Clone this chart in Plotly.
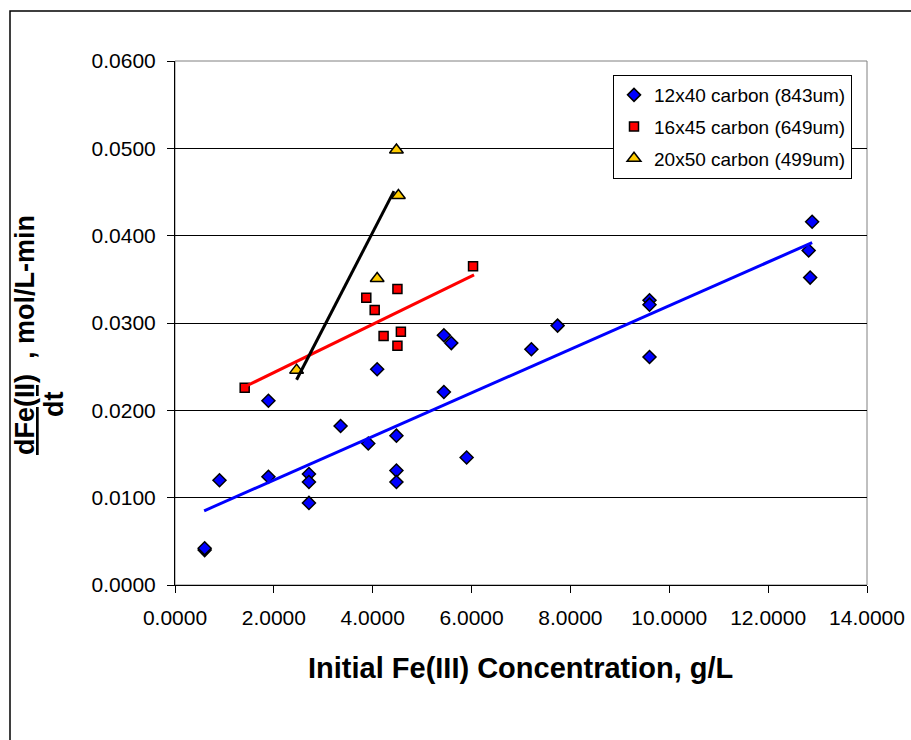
import plotly.graph_objects as go

# ---- data ----
blue_x = [0.60, 0.60, 0.90, 1.89, 1.89, 2.71, 2.71, 2.71, 3.35, 3.91, 4.09, 4.48, 4.48, 4.48,
          5.44, 5.44, 5.59, 5.90, 7.21, 7.74, 9.60, 9.60, 9.60, 12.82, 12.85, 12.89]
blue_y = [0.0040, 0.0042, 0.0120, 0.0124, 0.0211, 0.0127, 0.0118, 0.0094, 0.0182, 0.0162,
          0.0247, 0.0171, 0.0131, 0.0118, 0.0286, 0.0221, 0.0277, 0.0146, 0.0270, 0.0297,
          0.0326, 0.0321, 0.0261, 0.0383, 0.0352, 0.0416]
red_x = [1.41, 3.87, 4.04, 4.22, 4.50, 4.50, 4.57, 6.03]
red_y = [0.0226, 0.0329, 0.0315, 0.0285, 0.0339, 0.0274, 0.0290, 0.0365]
yel_x = [2.46, 4.09, 4.48, 4.52]
yel_y = [0.0246, 0.0351, 0.0498, 0.0446]

# trendline end points
blue_trend_x = [0.59, 12.89]
blue_trend_y = [0.0085, 0.0392]
red_trend_x = [1.41, 6.05]
red_trend_y = [0.0227, 0.0355]
black_trend_x = [2.46, 4.43]
black_trend_y = [0.0235, 0.0451]

names = ["12x40 carbon (843um)", "16x45 carbon (649um)", "20x50 carbon (499um)"]

FONT = "Arial, Liberation Sans, sans-serif"

fig = go.Figure()

fig.add_trace(go.Scatter(x=blue_x, y=blue_y, mode="markers", name=names[0], legendgroup="a",
                         marker=dict(symbol="diamond", size=10, color="#0000FF",
                                     line=dict(color="black", width=1.5))))
fig.add_trace(go.Scatter(x=red_x, y=red_y, mode="markers", name=names[1], legendgroup="b",
                         marker=dict(symbol="square", size=9, color="#FF0000",
                                     line=dict(color="black", width=1.5))))
fig.add_trace(go.Scatter(x=yel_x, y=yel_y, mode="markers", name=names[2], legendgroup="c",
                         marker=dict(symbol="triangle-up", size=12, color="#FFCC00",
                                     line=dict(color="black", width=1.5))))

fig.add_trace(go.Scatter(x=blue_trend_x, y=blue_trend_y, mode="lines", showlegend=False,
                         line=dict(color="#0000FF", width=3), hoverinfo="skip"))
fig.add_trace(go.Scatter(x=red_trend_x, y=red_trend_y, mode="lines", showlegend=False,
                         line=dict(color="#FF0000", width=3), hoverinfo="skip"))
fig.add_trace(go.Scatter(x=black_trend_x, y=black_trend_y, mode="lines", showlegend=False,
                         line=dict(color="#000000", width=3), hoverinfo="skip"))

L, R, T, B = 175, 867, 61, 585
W, H = 911, 740


def px(xp):
    return (xp - L) / (R - L)


def py(yp):
    return (B - yp) / (B - T)


fig.update_layout(
    width=W, height=H,
    margin=dict(l=L, r=W - R, t=T, b=H - B, pad=0, autoexpand=False),
    paper_bgcolor="white", plot_bgcolor="white",
    font=dict(family=FONT, color="black", size=21),
    showlegend=True,
    legend=dict(x=px(852), y=py(75), xanchor="right", yanchor="top",
                bgcolor="white", bordercolor="black", borderwidth=1,
                font=dict(size=19, family=FONT), itemwidth=30,
                tracegroupgap=4),
    xaxis=dict(range=[0, 14], dtick=2, tick0=0, tickformat=".4f",
               showgrid=False, zeroline=False, automargin=False,
               showline=True, linecolor="black", linewidth=1,
               ticks="outside", ticklen=7, tickcolor="black", tickwidth=1,
               ticklabelstandoff=7,
               tickfont=dict(size=21, family=FONT)),
    yaxis=dict(range=[0, 0.06], dtick=0.01, tick0=0, tickformat=".4f",
               showgrid=True, gridcolor="black", gridwidth=1, zeroline=False,
               automargin=False,
               showline=True, linecolor="black", linewidth=1,
               ticks="outside", ticklen=7, tickcolor="black", tickwidth=1,
               ticklabelstandoff=7,
               tickfont=dict(size=21, family=FONT)),
    shapes=[
        dict(type="rect", xref="paper", yref="paper", x0=0, x1=1, y0=0, y1=1,
             line=dict(color="#808080", width=1), layer="below"),
        dict(type="rect", xref="paper", yref="paper", x0=px(10), x1=px(930),
             y0=py(760), y1=py(11), line=dict(color="black", width=1.5)),
    ],
    annotations=[
        dict(text="<b>Initial Fe(III) Concentration, g/L</b>", xref="paper", yref="paper",
             x=px(520), y=py(668), xanchor="center", yanchor="middle", showarrow=False,
             font=dict(size=29, family=FONT)),
        dict(text="<b><u>dFe(II)</u>  , mol/L-min</b>", xref="paper", yref="paper",
             x=px(25), y=py(457), xanchor="center", yanchor="bottom", showarrow=False,
             textangle=-90, font=dict(size=27, family=FONT)),
        dict(text="<b>dt</b>", xref="paper", yref="paper",
             x=px(54), y=py(405), xanchor="center", yanchor="middle", showarrow=False,
             textangle=-90, font=dict(size=27, family=FONT)),
    ],
)

fig.write_html("out.html")
